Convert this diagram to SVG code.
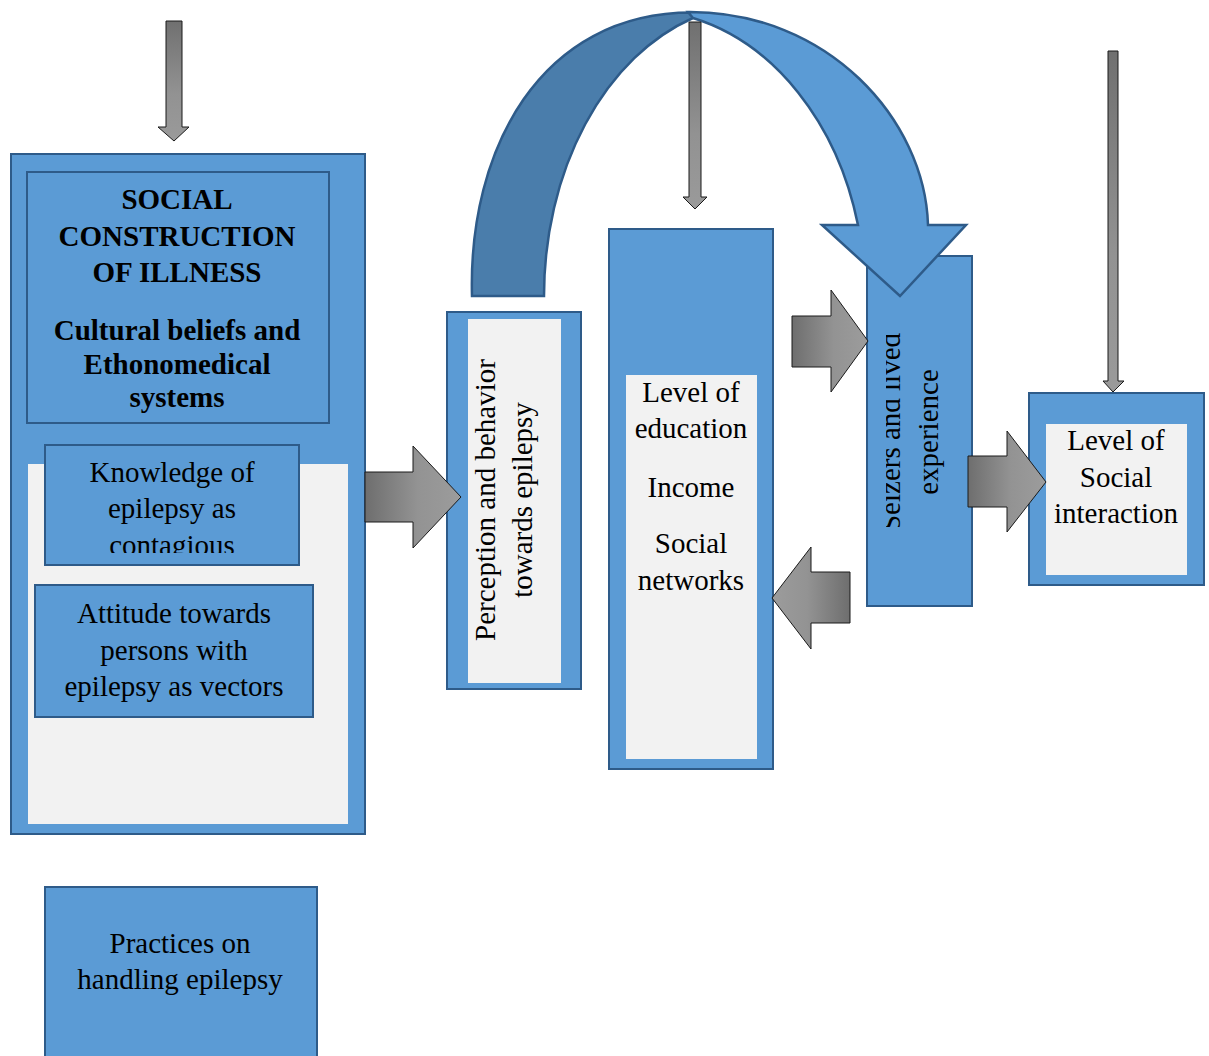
<svg xmlns="http://www.w3.org/2000/svg" width="1209" height="1056" viewBox="0 0 1209 1056">
<defs>
<linearGradient id="gR" x1="0" y1="0" x2="1" y2="0"><stop offset="0" stop-color="#6E6E6E"/><stop offset="0.55" stop-color="#939393"/><stop offset="1" stop-color="#9C9C9C"/></linearGradient>
<linearGradient id="gL" x1="1" y1="0" x2="0" y2="0"><stop offset="0" stop-color="#6E6E6E"/><stop offset="0.55" stop-color="#939393"/><stop offset="1" stop-color="#9C9C9C"/></linearGradient>
<linearGradient id="gD" x1="0" y1="0" x2="0" y2="1"><stop offset="0" stop-color="#707070"/><stop offset="0.6" stop-color="#929292"/><stop offset="1" stop-color="#9A9A9A"/></linearGradient>
<clipPath id="clipK"><rect x="44" y="444" width="256" height="109"/></clipPath>
<clipPath id="clipS"><rect x="886" y="250" width="90" height="277"/></clipPath>
</defs>
<style>
.box{fill:#5B9BD5;stroke:#2E5B89;stroke-width:2}
.pane{fill:#F2F2F2}
.t{font-family:"Liberation Serif","Times New Roman",serif;font-size:29px;fill:#000;text-anchor:middle}
.b{font-weight:bold;font-size:29px}
.gh{fill:url(#gR);stroke:#1A1A1A;stroke-width:1}
.gl{fill:url(#gL);stroke:#1A1A1A;stroke-width:1}
.gd{fill:url(#gD);stroke:#1A1A1A;stroke-width:1}
.band{stroke:#2E5B89;stroke-width:2.5;stroke-linejoin:miter}
</style>
<rect width="1209" height="1056" fill="#FFFFFF"/>

<g id="social-construction">
<rect class="box" x="11" y="154" width="354" height="680"/>
<rect class="pane" x="28" y="464" width="320" height="360"/>
<rect class="box" x="27" y="172" width="302" height="251"/>
<text class="t b" x="177" y="209">SOCIAL</text>
<text class="t b" x="177" y="246">CONSTRUCTION</text>
<text class="t b" x="177" y="282">OF ILLNESS</text>
<text class="t b" x="177" y="340">Cultural beliefs and</text>
<text class="t b" x="177" y="374">Ethonomedical</text>
<text class="t b" x="177" y="407">systems</text>
</g>

<g id="knowledge">
<rect class="box" x="45" y="445" width="254" height="120"/>
<g clip-path="url(#clipK)">
<text class="t" x="172" y="482">Knowledge of</text>
<text class="t" x="172" y="518">epilepsy as</text>
<text class="t" x="172" y="555">contagious</text>
</g>
</g>

<g id="attitude">
<rect class="box" x="35" y="585" width="278" height="132"/>
<text class="t" x="174" y="623">Attitude towards</text>
<text class="t" x="174" y="660">persons with</text>
<text class="t" x="174" y="696">epilepsy as vectors</text>
</g>

<g id="practices">
<rect class="box" x="45" y="887" width="272" height="185"/>
<text class="t" x="180" y="953">Practices on</text>
<text class="t" x="180" y="989">handling epilepsy</text>
</g>

<g id="perception">
<rect class="box" x="447" y="312" width="134" height="377"/>
<rect class="pane" x="468" y="319" width="93" height="364"/>
<text class="t" transform="translate(495,500) rotate(-90)" x="0" y="0">Perception and behavior</text>
<text class="t" transform="translate(532,500) rotate(-90)" x="0" y="0">towards epilepsy</text>
</g>

<g id="socioeconomic">
<rect class="box" x="609" y="229" width="164" height="540"/>
<rect class="pane" x="626" y="375" width="131" height="384"/>
<text class="t" x="691" y="402">Level of</text>
<text class="t" x="691" y="438">education</text>
<text class="t" x="691" y="497">Income</text>
<text class="t" x="691" y="553">Social</text>
<text class="t" x="691" y="590">networks</text>
</g>

<g id="seizers">
<rect class="box" x="867" y="256" width="105" height="350"/>
<g clip-path="url(#clipS)">
<text class="t" transform="translate(900,432) rotate(-90)" x="0" y="0">Seizers and lived</text>
<text class="t" transform="translate(938,432) rotate(-90)" x="0" y="0">experience</text>
</g>
</g>

<g id="social-interaction">
<rect class="box" x="1029" y="393" width="175" height="192"/>
<rect class="pane" x="1046" y="424" width="141" height="151"/>
<text class="t" x="1116" y="450">Level of</text>
<text class="t" x="1116" y="487">Social</text>
<text class="t" x="1116" y="523">interaction</text>
</g>

<g id="connectors">
<path class="band" fill="#4A7DAB" d="M472,296 C468,150 540,12 693,12.6 L693,18 A216,292.4 0 0 0 544,296 Z"/>
<path class="band" fill="#5B9BD5" d="M688,12 C828,11 925,120 928,225 L966,225 L900,296 L822,225 L858,225 A225,286 0 0 0 693,18 Z"/>
<path class="gd" d="M166,21 H182 V127 H189 L174,141 L158,127 H166 Z"/>
<path class="gd" d="M689,22 H701 V197 H707 L695,209 L683,197 H689 Z"/>
<path class="gd" d="M1108,51 H1118 V381 H1124 L1113,392 L1103,381 H1108 Z"/>
<path class="gh" d="M365,472 H413 V446 L461,497 L413,548 V522 H365 Z"/>
<path class="gh" d="M792,316 H831 V290 L868,341 L831,392 V367 H792 Z"/>
<path class="gl" d="M850,572 H811 V547 L772,598 L811,649 V623 H850 Z"/>
<path class="gh" d="M968,456 H1007 V431 L1046,482 L1007,532 V507 H968 Z"/>
</g>
</svg>
